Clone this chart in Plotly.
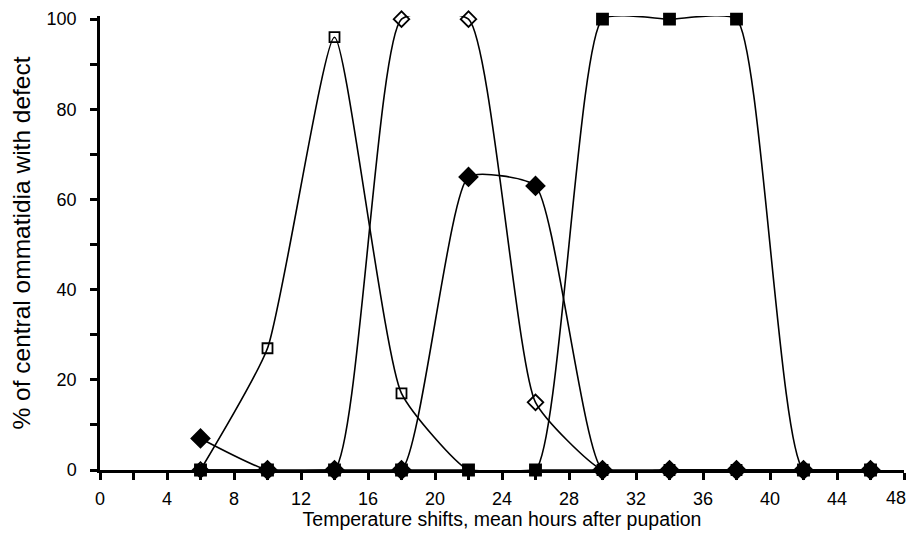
import plotly.graph_objects as go

hours = [6, 10, 14, 18, 22, 26, 30, 34, 38, 42, 46]
open_square = [0, 27, 96, 17, 0, 0, 0, 0, 0, 0, 0]
open_diamond = [0, 0, 0, 100, 100, 15, 0, 0, 0, 0, 0]
filled_diamond = [7, 0, 0, 0, 65, 63, 0, 0, 0, 0, 0]
filled_square = [0, 0, 0, 0, 0, 0, 100, 100, 100, 0, 0]

x_ticks = list(range(0, 49, 4))
x_labels = [str(v) for v in x_ticks]
y_ticks = list(range(0, 101, 20))

fig = go.Figure()
line = dict(color="black", width=1.6, shape="spline", smoothing=0.5)

series = [
    (open_square, "square-open", 10, "Open square"),
    (open_diamond, "diamond-open", 12, "Open diamond"),
    (filled_diamond, "diamond", 14, "Filled diamond"),
    (filled_square, "square", 11, "Filled square"),
]
for vals, sym, size, name in series:
    fig.add_trace(go.Scatter(
        x=hours, y=vals, mode="lines+markers", name=name,
        line=line,
        marker=dict(symbol=sym, size=size, color="black",
                    line=dict(color="black", width=1.8)),
        cliponaxis=False,
    ))

font = "Liberation Sans, Arial, Helvetica, sans-serif"
# the last tick label sits at the page edge, so it is drawn right-aligned as an annotation
shown_labels = x_labels[:-1] + [""]
fig.add_annotation(
    x=x_ticks[-1], xref="x", y=0, yref="paper", text=x_labels[-1],
    showarrow=False, xanchor="right", yanchor="top", xshift=4, yshift=-16,
    font=dict(family=font, size=18, color="black"),
)

# page body has an 8px margin, so the figure is sized and offset for it
fig.update_layout(
    width=906, height=522,
    margin=dict(l=92, r=10, t=8, b=60),
    paper_bgcolor="white", plot_bgcolor="white",
    showlegend=False,
    font=dict(family=font, size=18, color="black"),
    xaxis=dict(
        range=[0, 48], tickvals=x_ticks, ticktext=shown_labels, ticks="outside", ticklen=7, tickwidth=2.5,
        tickcolor="black", showline=True, linecolor="black", linewidth=2.5,
        showgrid=False, zeroline=False, automargin=False, ticklabeloverflow="allow",
        minor=dict(dtick=2, tick0=0, ticks="outside", ticklen=7, tickwidth=2.5, tickcolor="black"),
        title=dict(text="Temperature shifts, mean hours after pupation", font=dict(size=19.5), standoff=4),
        tickfont=dict(size=18), ticklabelstandoff=4,
    ),
    yaxis=dict(
        range=[0, 100.7], tickvals=y_ticks, ticks="outside", ticklen=7, tickwidth=2.5,
        tickcolor="black", showline=True, linecolor="black", linewidth=2.5,
        showgrid=False, zeroline=False, automargin=False, ticklabeloverflow="allow",
        minor=dict(dtick=10, tick0=0, ticks="outside", ticklen=7, tickwidth=2.5, tickcolor="black"),
        title=dict(text="% of central ommatidia with defect", font=dict(size=24.5), standoff=10),
        tickfont=dict(size=18), ticklabelstandoff=10,
    ),
)
fig.write_html("out.html")
